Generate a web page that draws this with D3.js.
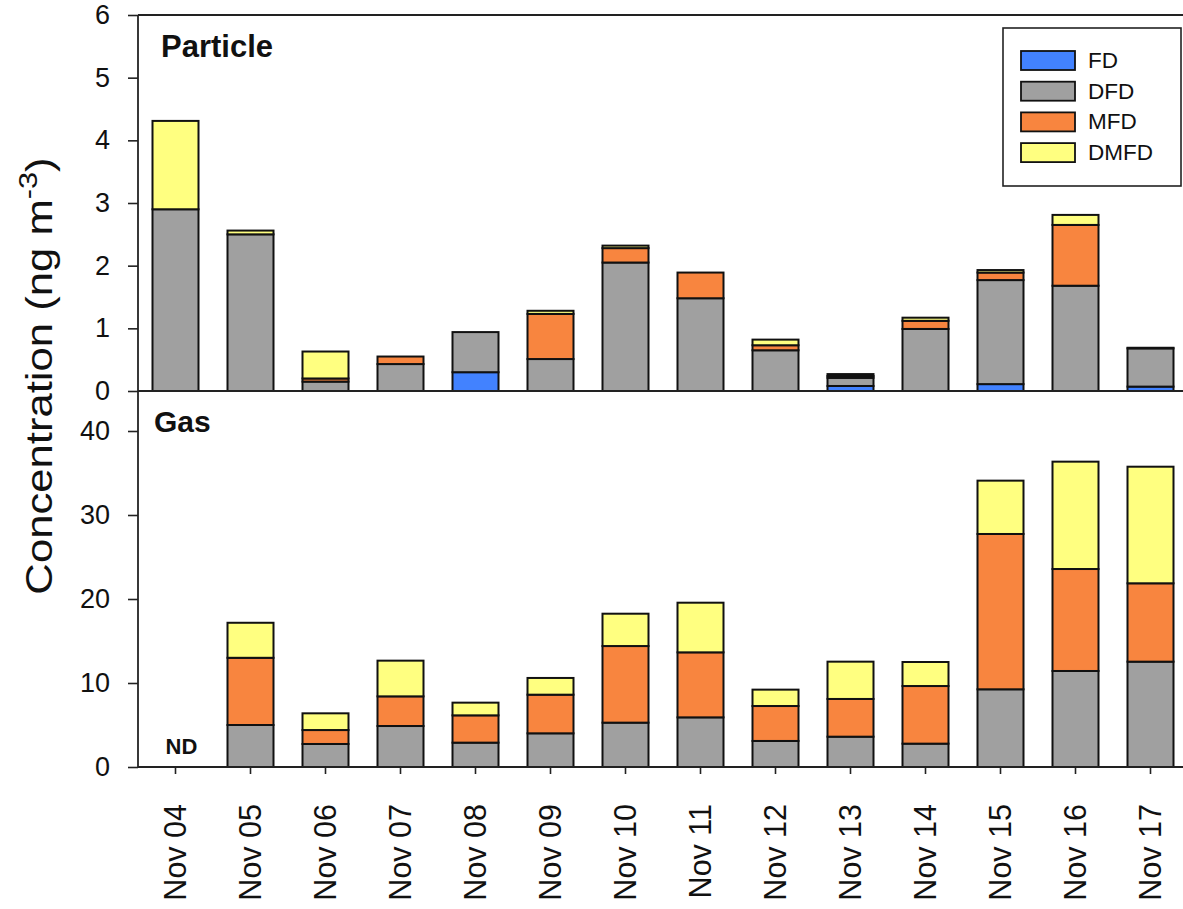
<!DOCTYPE html>
<html><head><meta charset="utf-8">
<script src="https://cdn.jsdelivr.net/npm/d3@7"></script>
<style>
html,body{margin:0;padding:0;background:#fff;}
svg{display:block;font-family:"Liberation Sans",Arial,sans-serif;}
</style></head>
<body>
<svg id="chart" width="1183" height="909"></svg>
<script>
const categories = ["Nov 04","Nov 05","Nov 06","Nov 07","Nov 08","Nov 09","Nov 10","Nov 11","Nov 12","Nov 13","Nov 14","Nov 15","Nov 16","Nov 17"];
const seriesNames = ["FD","DFD","MFD","DMFD"];
const seriesColors = ["#4282FF","#A0A0A0","#F8853F","#FFFF80"];

const particleFD   = [0,0,0,0,0.30,0,0,0,0,0.08,0,0.11,0,0.07];
const particleDFD  = [2.90,2.50,0.15,0.43,0.64,0.51,2.05,1.48,0.65,0.13,0.99,1.66,1.68,0.61];
const particleMFD  = [0,0,0.05,0.12,0,0.72,0.23,0.41,0.08,0.03,0.13,0.12,0.97,0.01];
const particleDMFD = [1.41,0.06,0.43,0,0,0.05,0.04,0,0.09,0.03,0.05,0.04,0.16,0];

const gasFD   = [null,0,0,0,0,0,0,0,0,0,0,0,0,0];
const gasDFD  = [null,5.00,2.74,4.88,2.90,4.01,5.28,5.91,3.10,3.61,2.78,9.25,11.43,12.54];
const gasMFD  = [null,8.00,1.66,3.53,3.25,4.60,9.12,7.74,4.16,4.49,6.86,18.49,12.14,9.33];
const gasDMFD = [null,4.17,1.99,4.25,1.51,1.99,3.85,5.91,1.95,4.44,2.86,6.35,12.78,13.88];

const particleTicks = [0,1,2,3,4,5,6];
const gasTicks = [0,10,20,30,40];
const ndLabel = "ND";

const svg = d3.select("#chart");
const left = 138, right = 1188;

const x = d3.scaleBand().domain(categories).range([left, right]).paddingInner(0).paddingOuter(0);
const barW = 46;

const yP = d3.scaleLinear().domain([0,6]).range([391,15]);
const yG = d3.scaleLinear().domain([0,40]).range([767,431]);

function rows(a,b,c,d){
  return categories.map((cat,i)=>({cat, FD:a[i]||0, DFD:b[i]||0, MFD:c[i]||0, DMFD:d[i]||0, nd:b[i]===null}));
}
const pRows = rows(particleFD,particleDFD,particleMFD,particleDMFD);
const gRows = rows(gasFD,gasDFD,gasMFD,gasDMFD);
const stack = d3.stack().keys(seriesNames);

function drawBars(data, y){
  const layers = stack(data);
  const g = svg.append("g");
  layers.forEach((layer,li)=>{
    g.selectAll(null).data(layer.filter(d=>d[1]-d[0]>0)).enter().append("rect")
      .attr("x", d=>x(d.data.cat)+x.bandwidth()/2-barW/2)
      .attr("width", barW)
      .attr("y", d=>y(d[1]))
      .attr("height", d=>y(d[0])-y(d[1]))
      .attr("fill", seriesColors[li])
      .attr("stroke","#111").attr("stroke-width",2);
  });
}
drawBars(pRows, yP);
drawBars(gRows, yG);

// frame lines
const lc = "#222", lw = 1.8;
svg.append("line").attr("x1",left).attr("x2",1183).attr("y1",yP(6)).attr("y2",yP(6)).attr("stroke",lc).attr("stroke-width",lw);
svg.append("line").attr("x1",left).attr("x2",1183).attr("y1",yP(0)).attr("y2",yP(0)).attr("stroke",lc).attr("stroke-width",lw);
svg.append("line").attr("x1",left).attr("x2",1183).attr("y1",yG(0)).attr("y2",yG(0)).attr("stroke",lc).attr("stroke-width",lw);
svg.append("line").attr("x1",left).attr("x2",left).attr("y1",yP(6)).attr("y2",yG(0)).attr("stroke",lc).attr("stroke-width",lw);

// y axes
function yAxis(scale, ticks){
  const g = svg.append("g").attr("transform",`translate(${left},0)`)
    .call(d3.axisLeft(scale).tickValues(ticks).tickSize(10).tickPadding(18).tickFormat(d3.format("d")));
  g.select(".domain").remove();
  g.selectAll(".tick line").attr("stroke",lc).attr("stroke-width",1.6);
  g.selectAll(".tick text").attr("font-size",27).attr("fill","#111").attr("font-family","'Liberation Sans',Arial,sans-serif");
}
yAxis(yP, particleTicks);
yAxis(yG, gasTicks);

// x axis
const xa = svg.append("g").attr("transform",`translate(0,${yG(0)})`)
  .call(d3.axisBottom(x).tickSize(7).tickFormat(""));
xa.select(".domain").remove();
xa.selectAll(".tick line").attr("stroke",lc).attr("stroke-width",1.6);
svg.append("g").selectAll("text").data(categories).enter().append("text")
  .attr("transform", d=>`translate(${x(d)+x.bandwidth()/2},804) rotate(-90)`)
  .attr("text-anchor","end").attr("dy","0.35em")
  .attr("font-size",30.5).attr("fill","#111").text(d=>d);

// panel labels
svg.append("text").attr("x",161).attr("y",57).attr("font-size",31).attr("font-weight","bold").attr("fill","#111").text("Particle");
svg.append("text").attr("x",154).attr("y",432).attr("font-size",30).attr("font-weight","bold").attr("fill","#111").text("Gas");
gRows.filter(d=>d.nd).forEach(d=>{
  svg.append("text").attr("x",x(d.cat)+x.bandwidth()/2+6).attr("y",yG(0)-13).attr("text-anchor","middle")
    .attr("font-size",22).attr("font-weight","bold").attr("fill","#111").text(ndLabel);
});

// y title
const yt = svg.append("text").attr("transform","translate(52,376) rotate(-90) scale(1.18,1)").attr("text-anchor","middle")
  .attr("font-size",37).attr("fill","#111");
yt.append("tspan").text("Concentration (ng m");
yt.append("tspan").attr("dy",-15).attr("font-size",26).text("-3");
yt.append("tspan").attr("dy",15).text(")");

// legend
const lg = svg.append("g");
lg.append("rect").attr("x",1003).attr("y",28).attr("width",178).attr("height",158).attr("fill","#fff").attr("stroke",lc).attr("stroke-width",1.6);
seriesNames.forEach((s,i)=>{
  lg.append("rect").attr("x",1021).attr("y",51+i*30.7).attr("width",54).attr("height",19)
    .attr("fill",seriesColors[i]).attr("stroke","#111").attr("stroke-width",1.8);
  lg.append("text").attr("x",1088).attr("y",68+i*30.7).attr("font-size",22.5).attr("fill","#111").text(s);
});
</script>
</body></html>
